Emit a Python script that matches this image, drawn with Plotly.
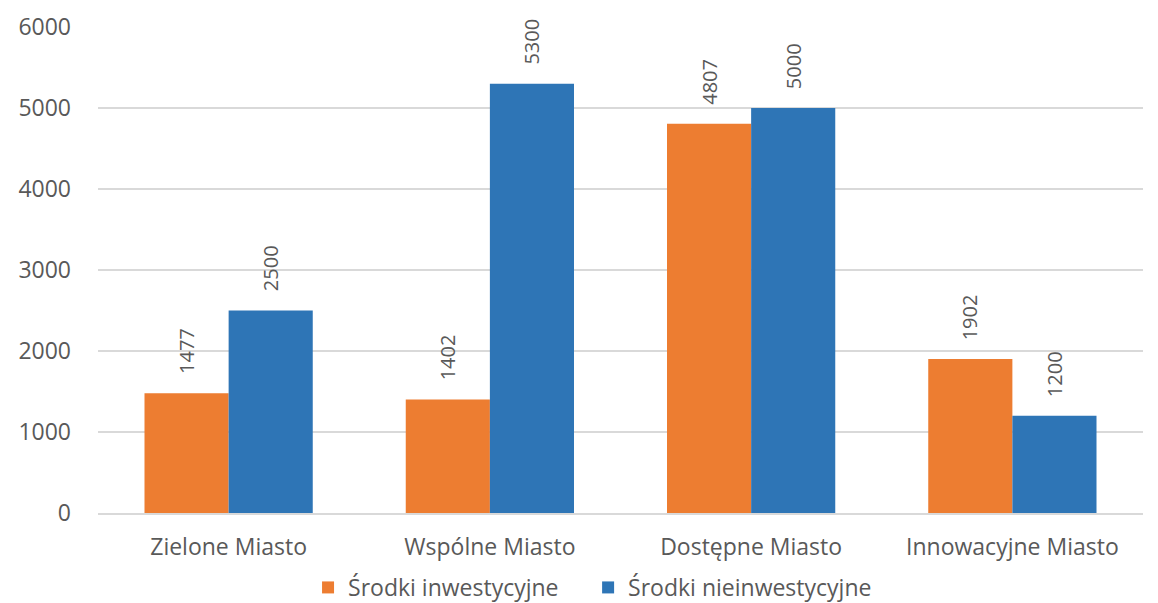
import plotly.graph_objects as go

# Chart data
categories = ["Zielone Miasto", "Wspólne Miasto", "Dostępne Miasto", "Innowacyjne Miasto"]
inwestycyjne = [1477, 1402, 4807, 1902]
nieinwestycyjne = [2500, 5300, 5000, 1200]
y_ticks = [0, 1000, 2000, 3000, 4000, 5000, 6000]

orange = "#ED7D31"
blue = "#2E75B6"
text_color = "#595959"
font_family = "Open Sans, Noto Sans, sans-serif"

fig = go.Figure()
fig.add_trace(go.Bar(x=categories, y=inwestycyjne, name="Środki inwestycyjne",
                     marker=dict(color=orange, line=dict(width=0)),
                     legend="legend", showlegend=True))
fig.add_trace(go.Bar(x=categories, y=nieinwestycyjne, name="Środki nieinwestycyjne",
                     marker=dict(color=blue, line=dict(width=0)),
                     legend="legend2", showlegend=True))

# Rotated value labels above bars
for vals, shift in [(inwestycyjne, -42), (nieinwestycyjne, 42)]:
    for cat, v in zip(categories, vals):
        fig.add_annotation(x=cat, y=v, text=str(v), textangle=-90, showarrow=False,
                           xshift=shift, yshift=17, yanchor="bottom",
                           font=dict(size=20, color=text_color, family=font_family))

legend_style = dict(orientation="h", xanchor="left", y=-0.109, yanchor="top",
                    font=dict(size=23, color=text_color), itemwidth=30,
                    bgcolor="rgba(0,0,0,0)", visible=True)

fig.update_layout(
    width=1158, height=640,
    margin=dict(l=90, r=23, t=19, b=135, autoexpand=False),
    barmode="group", bargap=0.356, bargroupgap=0,
    plot_bgcolor="white", paper_bgcolor="white",
    font=dict(family=font_family, size=23, color=text_color),
    showlegend=True,
    legend=dict(x=0.201, **legend_style),
    legend2=dict(x=0.469, **legend_style),
    xaxis=dict(showgrid=False, showline=True, linecolor="#D9D9D9", linewidth=1.5,
               ticks="", tickfont=dict(size=23, color=text_color), ticklabelstandoff=13),
    yaxis=dict(range=[0, 6000], tickvals=y_ticks, showgrid=True, gridcolor="#D9D9D9",
               gridwidth=1.5, zeroline=False, showline=False, ticks="",
               tickfont=dict(size=23, color=text_color), ticklabelstandoff=26),
)

fig.write_html("out.html")
